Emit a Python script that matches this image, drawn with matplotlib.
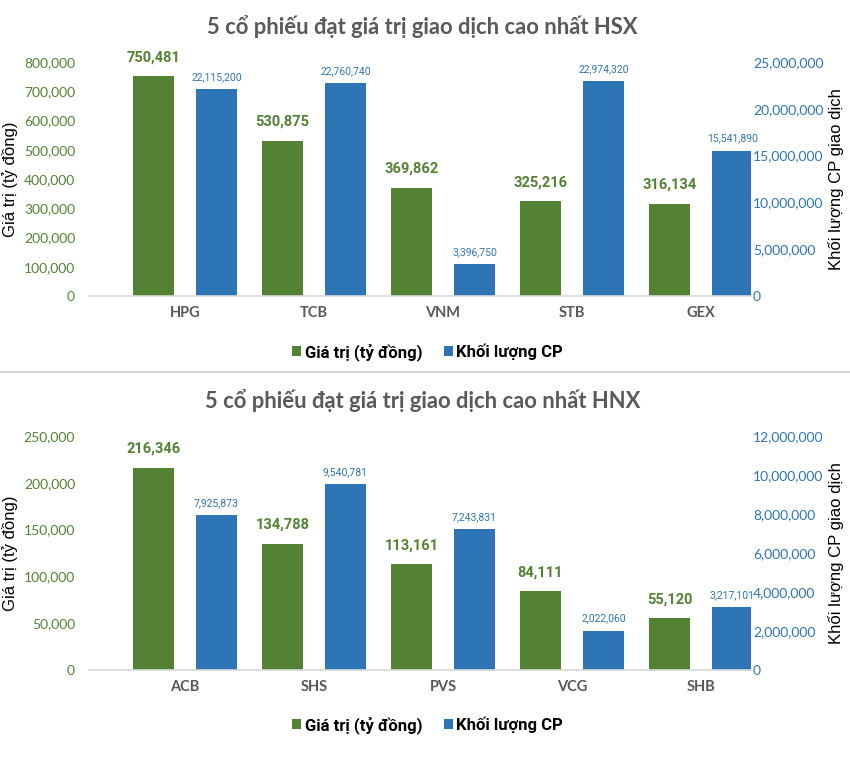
import matplotlib.pyplot as plt
import numpy as np
from matplotlib.patches import Patch
from matplotlib.lines import Line2D
from matplotlib.ticker import FuncFormatter

# HSX
hsx_codes = ['HPG', 'TCB', 'VNM', 'STB', 'GEX']
hsx_value = [750481, 530875, 369862, 325216, 316134]
hsx_volume = [22115200, 22760740, 3396750, 22974320, 15541890]

# HNX
hnx_codes = ['ACB', 'SHS', 'PVS', 'VCG', 'SHB']
hnx_value = [216346, 134788, 113161, 84111, 55120]
hnx_volume = [7925873, 9540781, 7243831, 2022060, 3217101]

GREEN = '#548235'
BLUE = '#2E75B6'
GRAY = '#595959'
NARROW = 'Roboto'
W, H = 850, 772

fig = plt.figure(figsize=(8.5, 7.72), dpi=100)
fig.patch.set_facecolor('white')

comma = FuncFormatter(lambda v, p: f'{int(v):,}')


def panel(top_px, bottom_px, title, codes, value, volume, vmax, vstep, qmax, qstep, title_y, legend_y):
    ax = fig.add_axes([89 / W, 1 - bottom_px / H, 662 / W, (bottom_px - top_px) / H])
    ax2 = ax.twinx()
    x = np.arange(len(codes))
    bw = 0.318
    off = 0.244
    ax.bar(x - off, value, bw, color=GREEN, zorder=2)
    ax2.bar(x + off, volume, bw, color=BLUE, zorder=2)
    ax.set_xlim(-96 / 129, 4 + 50 / 129)
    ax.set_ylim(0, vmax)
    ax2.set_ylim(0, qmax)
    ax.set_yticks(np.arange(0, vmax + 1, vstep))
    ax2.set_yticks(np.arange(0, qmax + 1, qstep))
    ax.yaxis.set_major_formatter(comma)
    ax2.yaxis.set_major_formatter(comma)
    ax.set_xticks(x)
    ax.set_xticklabels(codes, fontsize=10.5, color=GRAY, fontweight='bold', family='Lato')
    ax.tick_params(axis='x', length=0, pad=7)
    ax.tick_params(axis='y', length=0, pad=10, labelsize=10, labelcolor=GREEN)
    ax2.tick_params(axis='y', length=0, pad=1.5, labelsize=10, labelcolor=BLUE)
    for lab in ax.get_yticklabels() + ax2.get_yticklabels():
        lab.set_family('Lato')
    for a in (ax, ax2):
        for s in a.spines.values():
            s.set_visible(False)
    ax.spines['bottom'].set_visible(True)
    ax.spines['bottom'].set_color('#D9D9D9')
    ax.spines['bottom'].set_linewidth(1.2)
    ax.set_zorder(ax2.get_zorder() + 1)
    ax.patch.set_visible(False)

    for xi, v in zip(x, value):
        ax.annotate(f'{v:,}', (xi - off, v), xytext=(0, 8.5), textcoords='offset points',
                    ha='center', va='bottom', fontsize=10.5, fontweight='bold',
                    color=GREEN, family=NARROW)
    for xi, v in zip(x, volume):
        ax2.annotate(f'{v:,}', (xi + off, v), xytext=(0, 5), textcoords='offset points',
                     ha='center', va='bottom', fontsize=7.5, color=BLUE, family=NARROW)

    mid = 1 - (top_px + bottom_px) / 2 / H
    fig.text(10 / W, mid, 'Giá trị (tỷ đồng)', rotation=90, ha='center', va='center',
             fontsize=12, family='Liberation Sans')
    fig.text(836 / W, mid, 'Khối lượng CP giao dịch', rotation=90, ha='center', va='center',
             fontsize=12, family='Liberation Sans')
    fig.text(0.497, 1 - title_y / H, title, ha='center', va='center', fontsize=15.8,
             fontweight='bold', color=GRAY, family='Lato')

    handles = [Patch(facecolor=GREEN, label='Giá trị (tỷ đồng)'),
               Patch(facecolor=BLUE, label='Khối lượng CP')]
    fig.legend(handles=handles, loc='center', bbox_to_anchor=(0.503, 1 - legend_y / H),
               ncol=2, frameon=False, handlelength=0.55, handleheight=0.55,
               handletextpad=0.2, columnspacing=1.3,
               prop={'family': NARROW, 'weight': 'bold', 'size': 12})


panel(62, 296, '5 cổ phiếu đạt giá trị giao dịch cao nhất HSX', hsx_codes, hsx_value, hsx_volume,
      800000, 100000, 25000000, 5000000, 27, 352)
panel(436, 670, '5 cổ phiếu đạt giá trị giao dịch cao nhất HNX', hnx_codes, hnx_value, hnx_volume,
      250000, 50000, 12000000, 2000000, 401, 725)

fig.add_artist(Line2D([0, 1], [1 - 372 / H, 1 - 372 / H], color='#D9D9D9', lw=1.5))

fig.savefig('out.png', dpi=100)
